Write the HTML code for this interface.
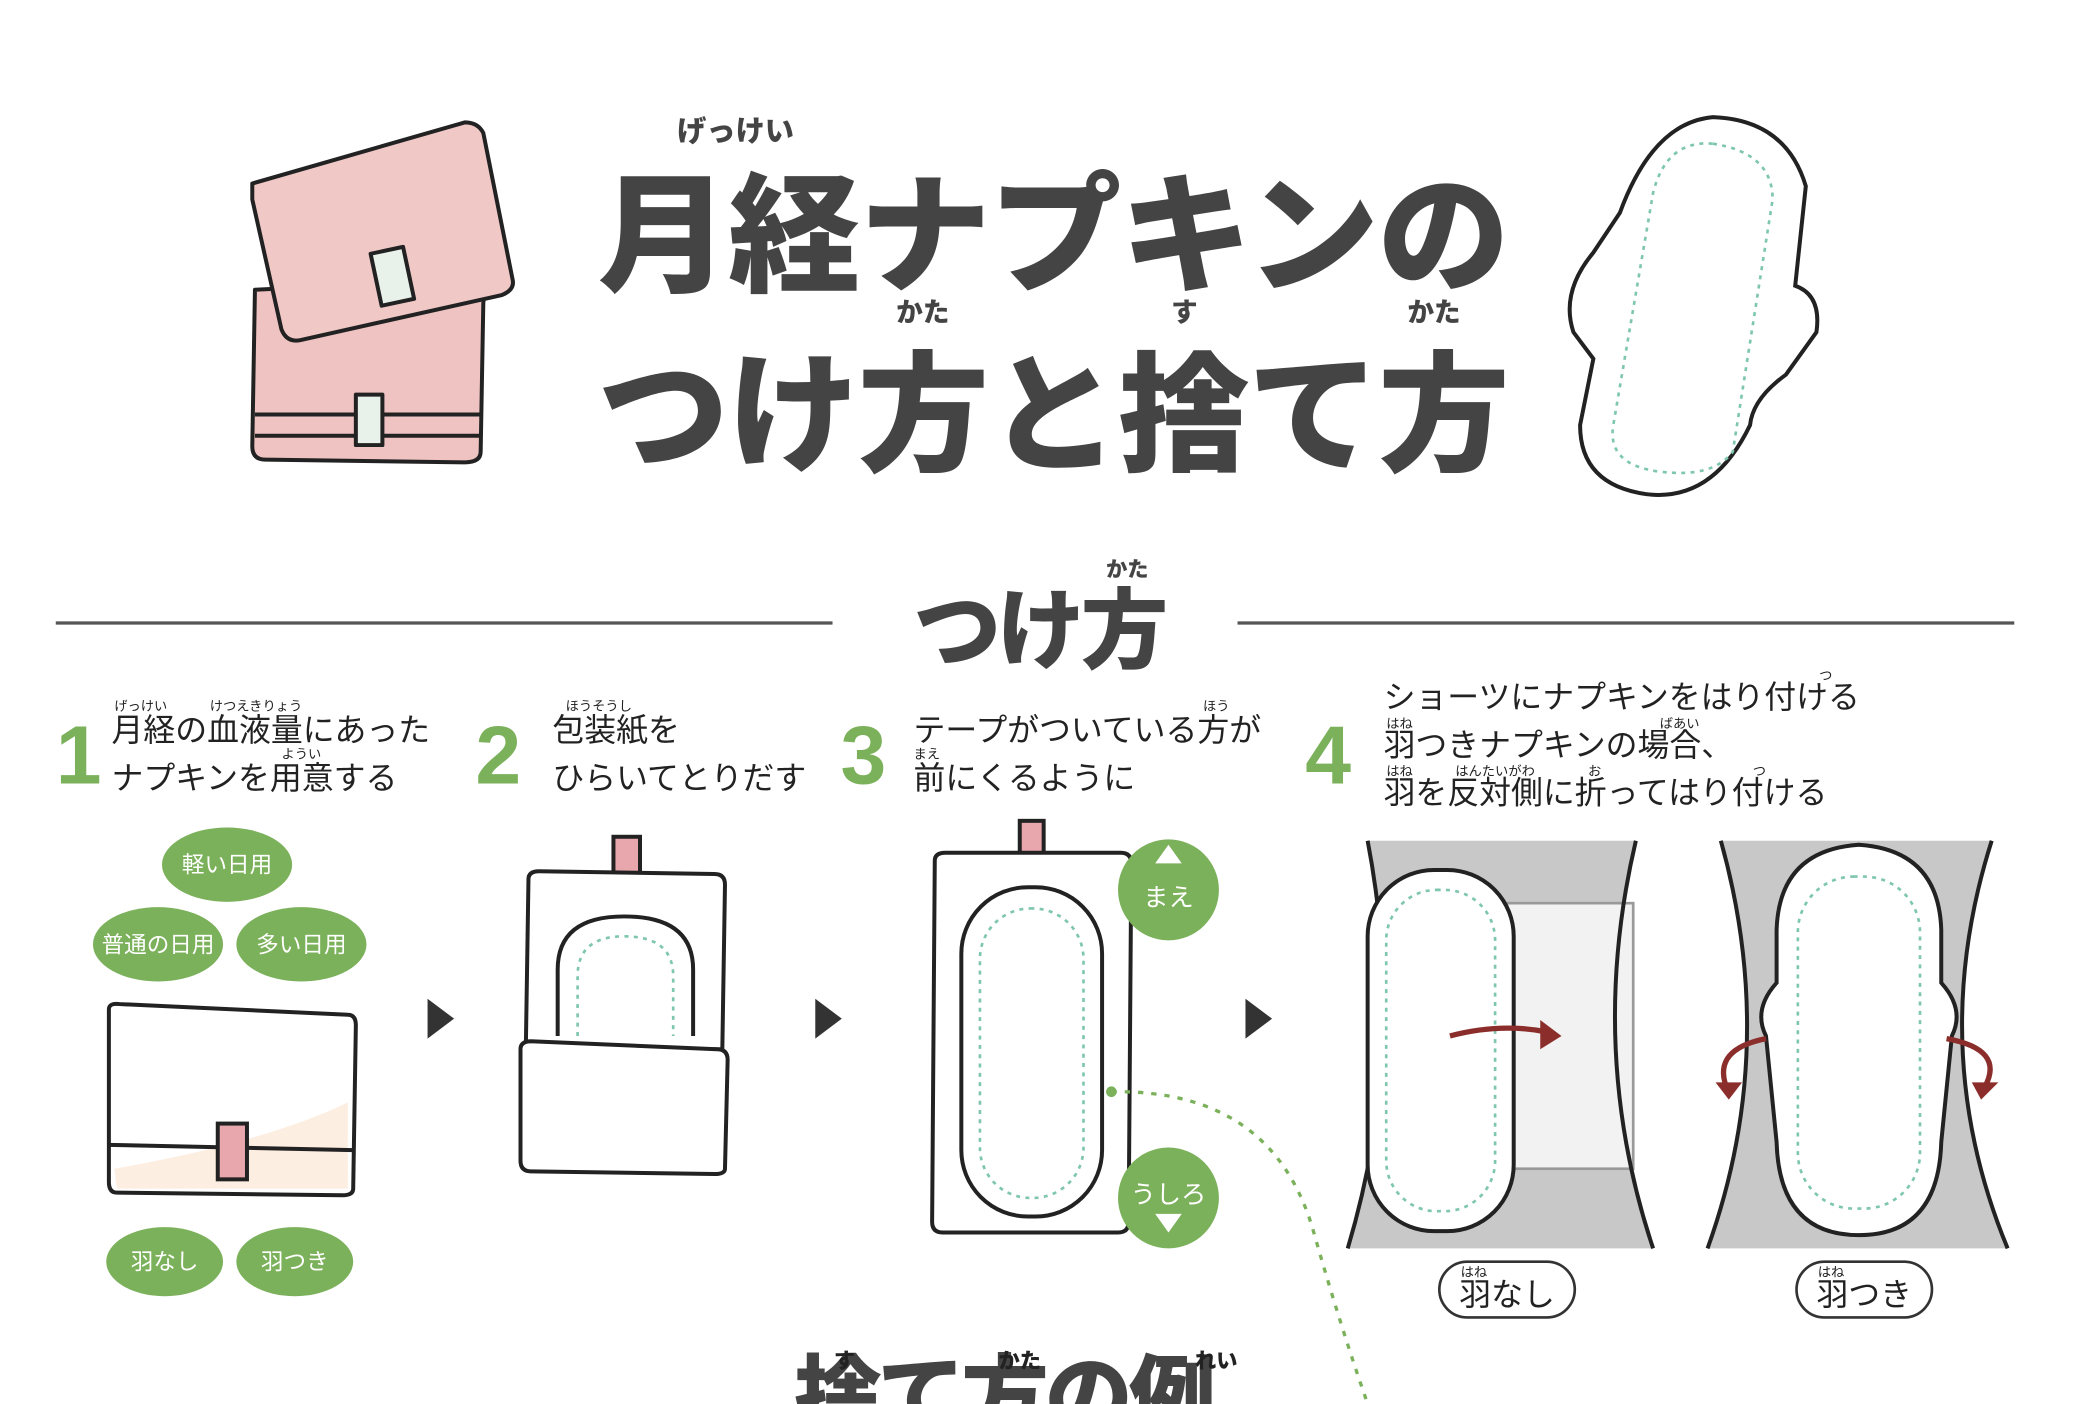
<!DOCTYPE html>
<html><head><meta charset="utf-8"><style>
html,body{margin:0;padding:0;background:#fff;}
svg{display:block}
text{font-family:"Liberation Sans","Noto Sans CJK JP",sans-serif;}
</style></head><body>
<svg width="2082" height="1404" viewBox="0 0 1568 1057" xmlns="http://www.w3.org/2000/svg">
<rect width="1568" height="1057" fill="#fff"/>
<g stroke="#222" stroke-width="3" stroke-linejoin="round">
<path d="M192 218 L358 210 Q366 212 364 228 L362 340 Q362 348 350 348 L200 346 Q190 346 190 336 Z" fill="#eec3c1"/>
<line x1="192" y1="312" x2="362" y2="312"/><line x1="192" y1="328" x2="362" y2="328"/>
<rect x="268" y="297" width="20" height="38" fill="#e9f2ea"/>
<path d="M190 138 L350 92 Q360 92 364 100 L386 210 Q388 218 378 222 L226 256 Q216 258 212 248 L190 150 Z" fill="#f0c8c6"/>
<rect x="283" y="188" width="25" height="40" fill="#e9f2ea" transform="rotate(-12 295 208)"/>
</g>
<g stroke="#222" stroke-width="3" fill="#fff">
<path d="M1290 88 Q1345 90 1360 140 L1352 215 Q1372 222 1368 250 L1345 282 Q1320 300 1318 320 Q1290 378 1240 372 Q1190 365 1190 320 L1200 270 L1185 250 Q1175 220 1200 190 L1220 160 Q1245 92 1290 88 Z"/>
</g>
<path d="M1290 108 Q1335 115 1335 150 L1305 340 Q1290 360 1250 355 Q1210 350 1215 320 L1245 145 Q1255 105 1290 108 Z" fill="none" stroke="#7ec6b0" stroke-width="2" stroke-dasharray="3 4"/>
<g fill="#444" font-weight="900">
<text x="450" y="212" font-size="98" letter-spacing="-1" textLength="686" lengthAdjust="spacingAndGlyphs">月経ナプキンの</text>
<text x="450" y="347" font-size="98" letter-spacing="-1" textLength="686" lengthAdjust="spacingAndGlyphs">つけ方と捨て方</text>
<text x="510" y="106" font-size="22">げっけい</text>
<text x="675" y="242" font-size="20">かた</text>
<text x="882" y="242" font-size="20">す</text>
<text x="1060" y="242" font-size="20">かた</text>
<text x="688" y="498" font-size="66" letter-spacing="-3">つけ方</text>
<text x="833" y="434" font-size="16">かた</text>
<text x="598" y="1075" font-size="66" letter-spacing="-3">捨て方の例</text>
</g>
<line x1="42" y1="469" x2="627" y2="469" stroke="#555" stroke-width="2.5"/>
<line x1="932" y1="469" x2="1517" y2="469" stroke="#555" stroke-width="2.5"/>
<g fill="#7cb15b" font-weight="700" font-size="62">
<text x="42" y="590">1</text><text x="358" y="590">2</text><text x="633" y="590">3</text><text x="983" y="590">4</text>
</g>
<g fill="#222" font-size="24">
<text x="84" y="558">月経の血液量にあった</text>
<text x="84" y="594">ナプキンを用意する</text>
<text x="416" y="558">包装紙を</text>
<text x="416" y="594">ひらいてとりだす</text>
<text x="688" y="558">テープがついている方が</text>
<text x="688" y="594">前にくるように</text>
<text x="1042" y="533">ショーツにナプキンをはり付ける</text>
<text x="1042" y="569">羽つきナプキンの場合、</text>
<text x="1042" y="605">羽を反対側に折ってはり付ける</text>
</g>
<g fill="#222" font-size="10">
<text x="86" y="535">げっけい</text><text x="158" y="535">けつえきりょう</text><text x="212" y="571">ようい</text>
<text x="426" y="535">ほうそうし</text><text x="906" y="535">ほう</text><text x="688" y="571">まえ</text>
<text x="1370" y="512">つ</text><text x="1044" y="548">はね</text><text x="1250" y="548">ばあい</text>
<text x="1044" y="584">はね</text><text x="1096" y="584">はんたいがわ</text><text x="1196" y="584">お</text><text x="1320" y="584">つ</text>
</g>
<g fill="#7cb15b">
<ellipse cx="171" cy="651" rx="49" ry="28"/><ellipse cx="119" cy="711" rx="49" ry="28"/><ellipse cx="227" cy="711" rx="49" ry="28"/>
<ellipse cx="124" cy="950" rx="44" ry="26"/><ellipse cx="222" cy="950" rx="44" ry="26"/>
</g>
<g fill="#fff" font-size="17" text-anchor="middle">
<text x="171" y="657">軽い日用</text><text x="119" y="717">普通の日用</text><text x="227" y="717">多い日用</text>
<text x="124" y="956">羽なし</text><text x="222" y="956">羽つき</text>
</g>
<g stroke="#222" stroke-width="3">
<path d="M82 760 Q82 755 90 756 L262 764 Q268 764 268 772 L266 895 Q266 900 258 900 L88 898 Q82 898 82 890 Z" fill="#fff"/>
<path d="M86 880 Q200 860 262 830 L262 895 L88 895 Z" fill="#fdeee2" stroke="none"/>
<line x1="82" y1="862" x2="266" y2="866"/>
<rect x="164" y="846" width="22" height="42" fill="#e7a7ad"/>
</g>
<g fill="#333"><path d="M322 752 L342 767 L322 782Z"/><path d="M614 752 L634 767 L614 782Z"/><path d="M938 752 L958 767 L938 782Z"/></g>
<g stroke="#222" stroke-width="3">
<rect x="462" y="630" width="20" height="30" fill="#e7a7ad"/>
<path d="M398 662 Q398 656 406 656 L538 658 Q546 658 546 666 L544 790 L396 790 Z" fill="#fff"/>
<path d="M420 780 L420 730 Q420 690 470 690 Q522 690 522 730 L522 780" fill="#fff"/>
<path d="M392 790 Q392 784 400 784 L540 790 Q548 790 548 798 L546 880 Q546 884 538 884 L400 882 Q392 882 392 874 Z" fill="#fff"/>
</g>
<path d="M435 780 L435 735 Q435 705 470 705 Q507 705 507 735 L507 780" fill="none" stroke="#7ec6b0" stroke-width="2" stroke-dasharray="3 4"/>
<g stroke="#222" stroke-width="3">
<rect x="768" y="618" width="18" height="30" fill="#e7a7ad"/>
<path d="M704 648 Q704 642 712 642 L844 642 Q852 642 852 650 L850 920 Q850 928 842 928 L710 928 Q702 928 702 920 Z" fill="#fff"/>
<rect x="724" y="668" width="106" height="248" rx="50" fill="#fff"/>
</g>
<rect x="738" y="684" width="78" height="218" rx="38" fill="none" stroke="#7ec6b0" stroke-width="2" stroke-dasharray="3 4"/>
<g fill="#7cb15b"><circle cx="880" cy="670" r="38"/><circle cx="880" cy="902" r="38"/><circle cx="837" cy="822" r="4"/></g>
<g fill="#fff"><path d="M880 636 L890 650 L870 650Z"/><path d="M880 928 L890 914 L870 914Z"/></g>
<g fill="#fff" font-size="19" text-anchor="middle"><text x="880" y="682">まえ</text><text x="880" y="906">うしろ</text></g>
<path d="M837 822 Q960 820 990 930 Q1010 1000 1030 1057" fill="none" stroke="#7cb15b" stroke-width="2.5" stroke-dasharray="4 6"/>
<path d="M1030 633 L1232 633 Q1195 790 1245 940 L1015 940 Q1060 790 1030 633Z" fill="#c8c8c8"/>
<rect x="1110" y="680" width="120" height="200" fill="#f2f2f2" stroke="#999" stroke-width="2"/>
<g stroke="#222" stroke-width="3" fill="none"><path d="M1030 633 Q1060 790 1015 940"/><path d="M1232 633 Q1195 790 1245 940"/></g>
<rect x="1030" y="655" width="110" height="272" rx="50" fill="#fff" stroke="#222" stroke-width="3"/>
<rect x="1044" y="670" width="82" height="242" rx="38" fill="none" stroke="#7ec6b0" stroke-width="2" stroke-dasharray="3 4"/>
<path d="M1092 780 Q1130 770 1165 777" fill="none" stroke="#8b2e2b" stroke-width="4"/><path d="M1160 768 L1176 780 L1160 790Z" fill="#8b2e2b"/>
<path d="M1296 633 L1500 633 Q1450 790 1512 940 L1286 940 Q1340 790 1296 633Z" fill="#c8c8c8"/>
<g stroke="#222" stroke-width="3" fill="none"><path d="M1296 633 Q1340 790 1286 940"/><path d="M1500 633 Q1450 790 1512 940"/></g>
<path d="M1400 636 Q1460 640 1462 700 L1462 740 Q1480 760 1470 780 L1462 860 Q1460 930 1400 930 Q1340 930 1338 860 L1330 780 Q1320 760 1338 740 L1338 700 Q1340 640 1400 636Z" fill="#fff" stroke="#222" stroke-width="3"/>
<rect x="1354" y="660" width="92" height="250" rx="42" fill="none" stroke="#7ec6b0" stroke-width="2" stroke-dasharray="3 4"/>
<g stroke="#8b2e2b" stroke-width="4" fill="none"><path d="M1330 782 Q1290 790 1300 818"/><path d="M1466 782 Q1510 790 1495 818"/></g>
<g fill="#8b2e2b"><path d="M1292 815 L1312 815 L1302 828Z"/><path d="M1485 815 L1505 815 L1492 828Z"/></g>
<g fill="#fff" stroke="#333" stroke-width="2"><rect x="1084" y="950" width="102" height="42" rx="21"/><rect x="1353" y="950" width="102" height="42" rx="21"/></g>
<g fill="#222" font-size="24" text-anchor="middle"><text x="1135" y="983">羽なし</text><text x="1404" y="983">羽つき</text></g>
<g fill="#222" font-size="10"><text x="1100" y="961">はね</text><text x="1369" y="961">はね</text></g>
<g fill="#222" font-size="16" font-weight="900"><text x="628" y="1030">す</text><text x="752" y="1030">かた</text><text x="900" y="1030">れい</text></g>
</svg>
</body></html>
